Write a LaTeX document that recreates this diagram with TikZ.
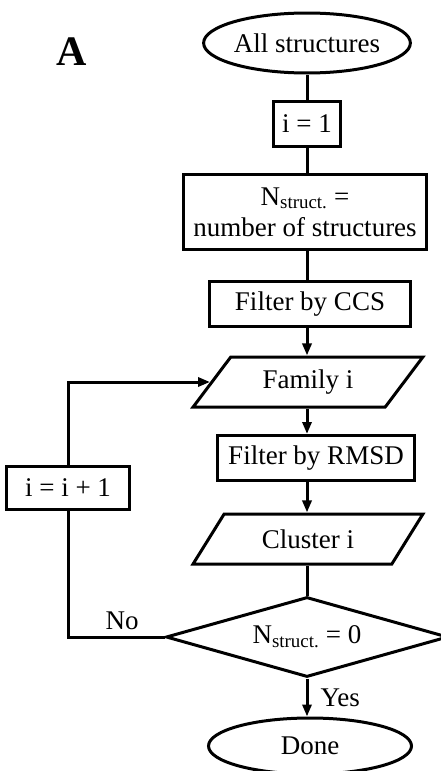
\documentclass[tikz,border=0pt]{standalone}
\usepackage{fontspec}
\setmainfont{Liberation Serif}
\usetikzlibrary{shapes.geometric,arrows.meta}

\begin{document}
\begin{tikzpicture}[x=1pt, y=-1pt, line width=3pt,
  font=\fontsize{27}{31}\selectfont,
  term/.style={draw, ellipse, minimum width=203pt, minimum height=60pt, inner sep=0pt},
  box/.style={draw, rectangle, inner sep=0pt, align=center},
  io/.style={draw, trapezium, trapezium left angle=48, trapezium right angle=132,
    trapezium stretches=true, minimum width=230pt, minimum height=50pt, inner sep=0pt},
  test/.style={draw, diamond, aspect=3.5, minimum width=282pt, minimum height=80pt, inner sep=0pt},
  flow/.style={-{Triangle[length=12pt,width=9pt]}}]
  \useasboundingbox (0,0) rectangle (441,771);
  \clip (0,0) rectangle (441,771);
  % panel letter
  \node (panel) at (72,52) {\fontsize{42}{42}\selectfont\bfseries A};
  % main column
  \node[term] (start) at (307,43) {All structures};
  \node[box, minimum width=67pt, minimum height=45pt] (init) at (307,124) {i = 1};
  \node[box, minimum width=243pt, minimum height=75pt] (count) at (305,212)
    {N\textsubscript{struct.} =\\ number of structures};
  \node[box, minimum width=201pt, minimum height=45pt] (ccs) at (310,304) {Filter by CCS};
  \node[io] (family) at (308,382) {Family i};
  \node[box, minimum width=197pt, minimum height=45pt] (rmsd) at (316,458) {Filter by RMSD};
  \node[io] (cluster) at (308,539) {Cluster i};
  \node[test] (check) at (307,637) {N\textsubscript{struct.} = 0};
  \node[term, minimum height=56pt] (done) at (310,746) {Done};
  % loop counter
  \node[box, minimum width=123pt, minimum height=43pt] (incr) at (68,488) {i = i + 1};

  % straight run down the column
  \draw (start.south) -- (start |- init.north);
  \draw (start |- init.south) -- (start |- count.north);
  \draw (start |- count.south) -- (start |- ccs.north);
  \draw[flow] (start |- ccs.south) -- (start |- family.north);
  \draw[flow] (start |- family.south) -- (start |- rmsd.north);
  \draw[flow] (start |- rmsd.south) -- (start |- cluster.north);
  \draw (start |- cluster.south) -- (check.north);
  \draw[flow] (check.south) -- (start |- done.north)
    node[midway, right, inner sep=12pt] {Yes};
  % back to the next family
  \draw (check.west) -| (incr.south) node[pos=0.22, above, inner sep=6pt] {No};
  \draw[flow] (incr.north) |- (family.west);
\end{tikzpicture}
\end{document}
